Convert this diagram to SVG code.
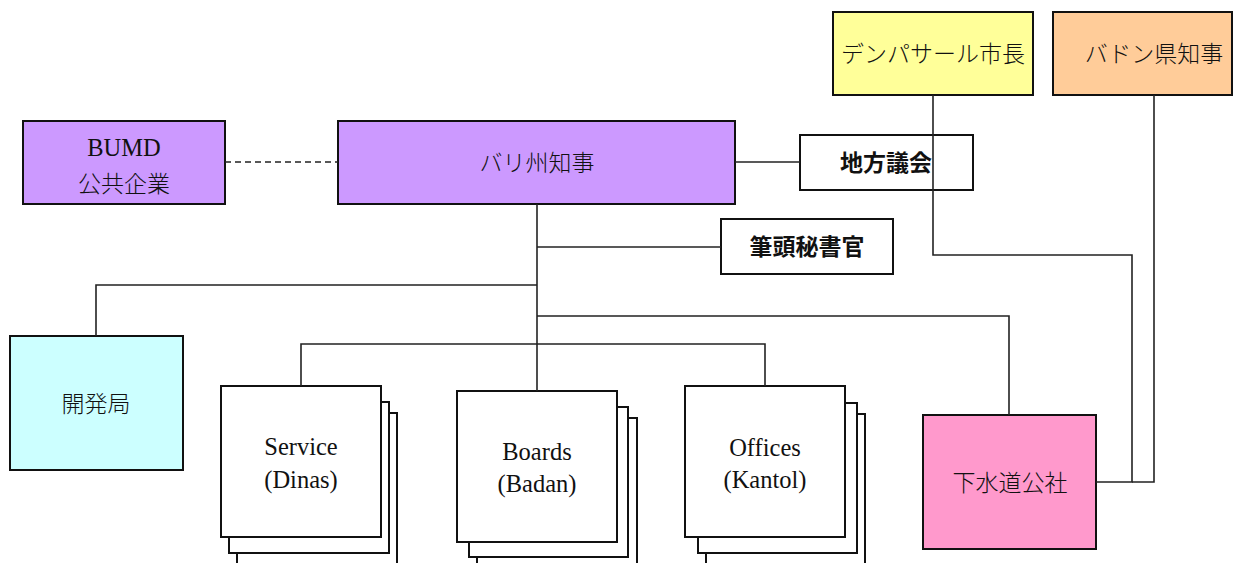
<svg xmlns="http://www.w3.org/2000/svg" width="1244" height="563" viewBox="0 0 1244 563">
<style>
.box{stroke:#111;stroke-width:2}
.w{fill:#fff}
.ln{fill:none;stroke:#222;stroke-width:1.6}
.dash{fill:none;stroke:#222;stroke-width:1.6;stroke-dasharray:6 4}
.mj{font-family:"Liberation Serif","Noto Sans CJK JP",serif;font-size:23px;font-weight:300;fill:#111;text-anchor:middle}
.en{font-family:"Liberation Serif",serif;font-size:24.5px;fill:#111;text-anchor:middle}
.gb{font-family:"Noto Sans CJK JP",sans-serif;font-weight:bold;font-size:23px;fill:#111;text-anchor:middle}
</style>
<rect width="1244" height="563" fill="#fff"/>
<g id="bumd"><rect class="box" x="23" y="121" width="202" height="83" fill="#CC99FF"/>
<text class="en" x="124" y="156">BUMD</text><text class="mj" x="124" y="192">公共企業</text></g>
<g id="governor"><rect class="box" x="338" y="121" width="397" height="83" fill="#CC99FF"/>
<text class="mj" x="537" y="171">バリ州知事</text></g>
<g id="council"><rect class="box w" x="800" y="135" width="173" height="55"/>
<text class="gb" x="886" y="171">地方議会</text></g>
<g id="secretary"><rect class="box w" x="721" y="219" width="172" height="55"/>
<text class="gb" x="807" y="255">筆頭秘書官</text></g>
<g id="mayor"><rect class="box" x="833" y="12" width="200" height="83" fill="#FFFF99"/>
<text class="mj" x="933" y="62">デンパサール市長</text></g>
<g id="badung"><rect class="box" x="1053" y="12" width="179" height="83" fill="#FFCC99"/>
<text class="mj" x="1154" y="62">バドン県知事</text></g>
<g id="bappeda"><rect class="box" x="10" y="336" width="173" height="134" fill="#CCFFFF"/>
<text class="mj" x="96" y="412">開発局</text></g>
<g id="sewerage"><rect class="box" x="923" y="415" width="173" height="134" fill="#FF99CC"/>
<text class="mj" x="1010" y="491">下水道公社</text></g>
<g id="service">
<rect class="box w" x="237" y="413" width="160" height="160"/>
<rect class="box w" x="229" y="402" width="160" height="151"/>
<rect class="box w" x="221" y="386" width="160" height="151"/>
<text class="en" x="301" y="455">Service</text><text class="en" x="301" y="488">(Dinas)</text></g>
<g id="boards">
<rect class="box w" x="477" y="418" width="160" height="160"/>
<rect class="box w" x="469" y="407" width="159" height="150"/>
<rect class="box w" x="457" y="391" width="160" height="151"/>
<text class="en" x="537" y="460">Boards</text><text class="en" x="537" y="492">(Badan)</text></g>
<g id="offices">
<rect class="box w" x="706" y="414" width="159" height="160"/>
<rect class="box w" x="698" y="403" width="159" height="150"/>
<rect class="box w" x="685" y="386" width="160" height="151"/>
<text class="en" x="765" y="456">Offices</text><text class="en" x="765" y="488">(Kantol)</text></g>
<g id="connectors">
<path class="dash" d="M225 162H338"/>
<path class="ln" d="M735 162H800"/>
<path class="ln" d="M537 204V391"/>
<path class="ln" d="M537 247H721"/>
<path class="ln" d="M537 285H96V336"/>
<path class="ln" d="M537 316H1009V415"/>
<path class="ln" d="M301 386V344H765V386"/>
<path class="ln" d="M933 95V255H1132V482H1096"/>
<path class="ln" d="M1154 95V482H1132"/>
</g>
</svg>
